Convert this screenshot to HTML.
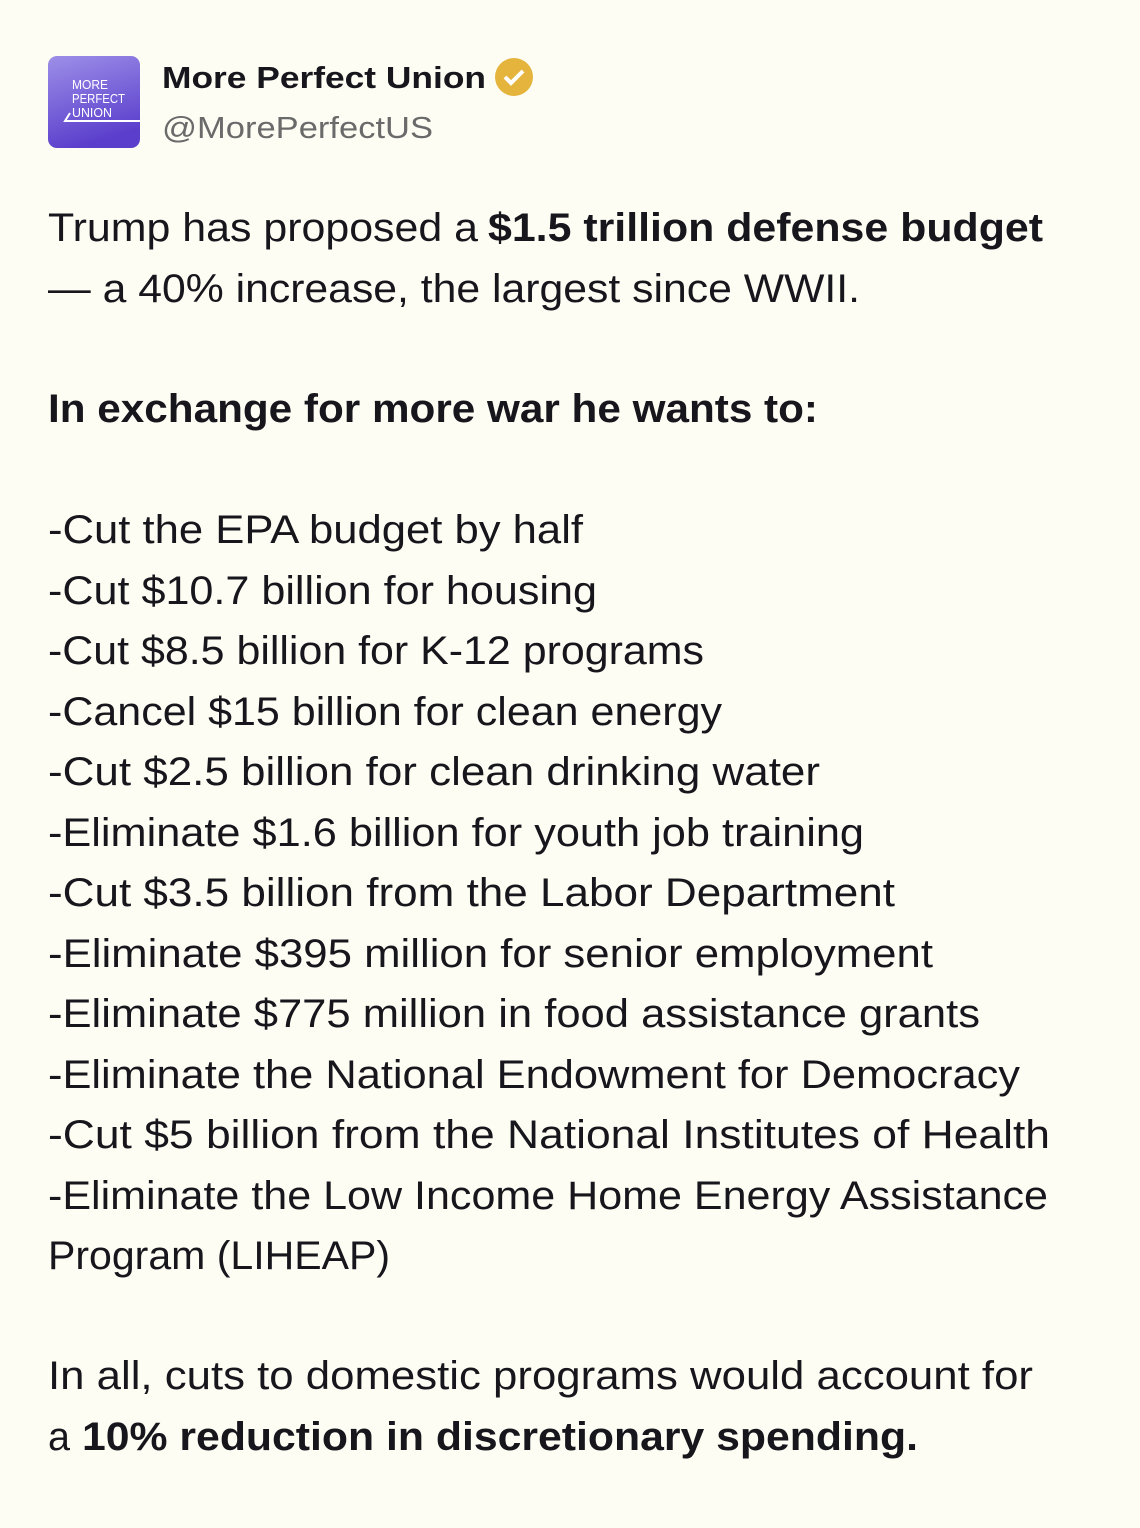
<!DOCTYPE html>
<html><head><meta charset="utf-8"><style>
html,body{margin:0;padding:0;background:#fdfdf4;}
svg{display:block}
text{font-family:"Liberation Sans",sans-serif;fill:#16161c;}
.b{font-weight:bold}
</style></head><body>
<svg width="1140" height="1528" viewBox="0 0 1140 1528" xmlns="http://www.w3.org/2000/svg">
<defs><linearGradient id="g" x1="0" y1="0" x2="0.3" y2="1"><stop offset="0" stop-color="#9d8fe8"/><stop offset="1" stop-color="#5b3fcc"/></linearGradient></defs>
<rect width="1140" height="1528" fill="#fdfdf4"/>
<rect x="48" y="56" width="92" height="92" rx="9" fill="url(#g)"/>
<text x="72" y="89" font-size="13" style="fill:#fff" textLength="36" lengthAdjust="spacingAndGlyphs">MORE</text>
<text x="72" y="103" font-size="13" style="fill:#fff" textLength="53" lengthAdjust="spacingAndGlyphs">PERFECT</text>
<text x="72" y="117" font-size="13" style="fill:#fff" textLength="40" lengthAdjust="spacingAndGlyphs">UNION</text>
<path d="M70 113 L65 121 L140 121" stroke="#fff" stroke-width="2" fill="none"/>
<text x="162" y="88" font-size="31" class="b" textLength="324" lengthAdjust="spacingAndGlyphs">More Perfect Union</text>
<circle cx="514" cy="77" r="19" fill="#e4b43c"/>
<path d="M505 77 L511 83 L523 71" stroke="#fff" stroke-width="4" fill="none"/>
<text x="162" y="138" font-size="31" style="fill:#6a6a6a" textLength="271" lengthAdjust="spacingAndGlyphs">@MorePerfectUS</text>

<g font-size="40">
<text x="48" y="241" textLength="430" lengthAdjust="spacingAndGlyphs">Trump has proposed a</text>
<text x="488" y="241" class="b" textLength="555" lengthAdjust="spacingAndGlyphs">$1.5 trillion defense budget</text>
<text x="48" y="302" textLength="812" lengthAdjust="spacingAndGlyphs">— a 40% increase, the largest since WWII.</text>
<text x="48" y="422" class="b" textLength="770" lengthAdjust="spacingAndGlyphs">In exchange for more war he wants to:</text>
<text x="48" y="543" textLength="535" lengthAdjust="spacingAndGlyphs">-Cut the EPA budget by half</text>
<text x="48" y="604" textLength="549" lengthAdjust="spacingAndGlyphs">-Cut $10.7 billion for housing</text>
<text x="48" y="664" textLength="656" lengthAdjust="spacingAndGlyphs">-Cut $8.5 billion for K-12 programs</text>
<text x="48" y="725" textLength="674" lengthAdjust="spacingAndGlyphs">-Cancel $15 billion for clean energy</text>
<text x="48" y="785" textLength="772" lengthAdjust="spacingAndGlyphs">-Cut $2.5 billion for clean drinking water</text>
<text x="48" y="846" textLength="816" lengthAdjust="spacingAndGlyphs">-Eliminate $1.6 billion for youth job training</text>
<text x="48" y="906" textLength="847" lengthAdjust="spacingAndGlyphs">-Cut $3.5 billion from the Labor Department</text>
<text x="48" y="967" textLength="885" lengthAdjust="spacingAndGlyphs">-Eliminate $395 million for senior employment</text>
<text x="48" y="1027" textLength="932" lengthAdjust="spacingAndGlyphs">-Eliminate $775 million in food assistance grants</text>
<text x="48" y="1088" textLength="972" lengthAdjust="spacingAndGlyphs">-Eliminate the National Endowment for Democracy</text>
<text x="48" y="1148" textLength="1002" lengthAdjust="spacingAndGlyphs">-Cut $5 billion from the National Institutes of Health</text>
<text x="48" y="1209" textLength="1000" lengthAdjust="spacingAndGlyphs">-Eliminate the Low Income Home Energy Assistance</text>
<text x="48" y="1269" textLength="342" lengthAdjust="spacingAndGlyphs">Program (LIHEAP)</text>
<text x="48" y="1389" textLength="985" lengthAdjust="spacingAndGlyphs">In all, cuts to domestic programs would account for</text>
<text x="48" y="1450" textLength="22" lengthAdjust="spacingAndGlyphs">a</text>
<text x="82" y="1450" class="b" textLength="836" lengthAdjust="spacingAndGlyphs">10% reduction in discretionary spending.</text>
</g>
</svg>
</body></html>
